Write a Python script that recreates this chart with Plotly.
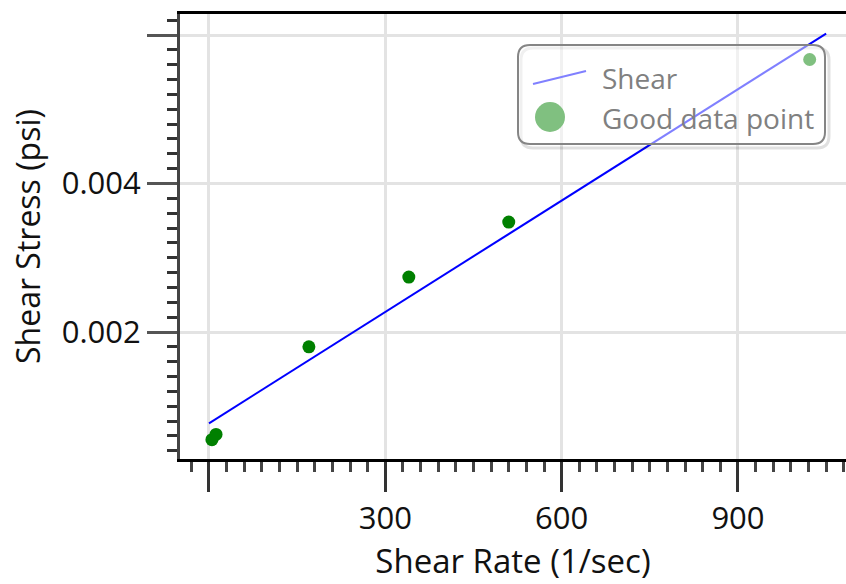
import plotly.graph_objects as go

# ---- data ----
shear_rate = [5, 12, 170, 340, 510, 1022]
shear_stress = [0.00055, 0.00062, 0.00180, 0.00274, 0.00348, 0.00567]
fit_rate = [0, 1050]
fit_stress = [0.00077, 0.00602]

x_major = [0, 300, 600, 900]
x_labels = ["", "300", "600", "900"]
x_medium = [150, 450, 750, 1050]
y_major = [0.002, 0.004, 0.006]
y_labels = ["0.002", "0.004", ""]
y_medium = [0.001, 0.003, 0.005]

legend_names = ["Shear", "Good data point"]

XR = [-49.3, 1083.8]
YR = [0.0002896, 0.006283]
FONT = "Open Sans, Noto Sans, DejaVu Sans, sans-serif"

fig = go.Figure()
fig.add_trace(go.Scatter(x=fit_rate, y=fit_stress, mode="lines", name=legend_names[0],
                         line=dict(color="#0000ff", width=2), showlegend=False))
fig.add_trace(go.Scatter(x=shear_rate, y=shear_stress, mode="markers", name=legend_names[1],
                         marker=dict(color="#008000", size=13), showlegend=False))

L, R, T, B = 180, 0, 14, 125
W, H = 846, 584
pw, ph = W - L - R, H - T - B


def px(x):
    return (x - L) / pw


def py(y):
    return (H - B - y) / ph


def rrect(x0, y0, x1, y1, r):
    rx, ry = r / pw, r / ph
    X0, X1 = px(x0), px(x1)
    Y0, Y1 = py(y0), py(y1)  # Y0 top (larger), Y1 bottom
    return (f"M {X0+rx},{Y0} L {X1-rx},{Y0} Q {X1},{Y0} {X1},{Y0-ry} "
            f"L {X1},{Y1+ry} Q {X1},{Y1} {X1-rx},{Y1} L {X0+rx},{Y1} "
            f"Q {X0},{Y1} {X0},{Y1+ry} L {X0},{Y0-ry} Q {X0},{Y0} {X0+rx},{Y0} Z")


shapes = [
    dict(type="path", xref="paper", yref="paper", layer="above",
         path=rrect(521, 48, 829, 148, 12), fillcolor="rgba(0,0,0,0)",
         line=dict(color="rgba(0,0,0,0.12)", width=3)),
    dict(type="path", xref="paper", yref="paper", layer="above",
         path=rrect(518, 45, 825, 144, 12), fillcolor="rgba(255,255,255,0.5)",
         line=dict(color="#858585", width=2)),
    dict(type="line", xref="paper", yref="paper", layer="above",
         x0=px(533), y0=py(84), x1=px(586), y1=py(71),
         line=dict(color="#8080ff", width=2)),
    dict(type="circle", xref="paper", yref="paper", layer="above",
         x0=px(535), y0=py(102), x1=px(565), y1=py(132),
         fillcolor="#80c080", line=dict(width=0)),
]

annotations = [
    dict(xref="paper", yref="paper", x=px(600), y=py(78), text=legend_names[0],
         showarrow=False, xanchor="left", yanchor="middle",
         font=dict(family=FONT, size=28, color="#808080")),
    dict(xref="paper", yref="paper", x=px(600), y=py(118), text=legend_names[1],
         showarrow=False, xanchor="left", yanchor="middle",
         font=dict(family=FONT, size=28, color="#808080")),
]

fig.update_layout(
    width=W, height=H,
    margin=dict(l=L, r=R, t=T, b=B),
    paper_bgcolor="white", plot_bgcolor="white",
    font=dict(family=FONT, size=31, color="#111111"),
    showlegend=False,
    shapes=shapes,
    annotations=annotations,
    xaxis=dict(
        range=XR, tickmode="array", tickvals=x_major, ticktext=x_labels,
        ticks="outside", ticklen=30, tickwidth=2.5, tickcolor="#333333",
        showgrid=True, gridcolor="#e3e3e3", gridwidth=3,
        showline=True, linecolor="black", linewidth=3, mirror=True,
        zeroline=False,
        minor=dict(tick0=0, dtick=30, ticks="outside", ticklen=10, tickwidth=2.5,
                   tickcolor="#444444", showgrid=False),
        title=dict(text="Shear Rate (1/sec)", standoff=8,
                   font=dict(family=FONT, size=33, color="#111111")),
        tickfont=dict(family=FONT, size=31, color="#111111"),
    ),
    xaxis2=dict(
        range=XR, overlaying="x", anchor="y", side="bottom",
        tickmode="array", tickvals=x_medium, ticks="outside", ticklen=18,
        tickwidth=2.5, tickcolor="#333333", showticklabels=False,
        showgrid=False, showline=False, zeroline=False,
    ),
    yaxis=dict(
        range=YR, tickmode="array", tickvals=y_major, ticktext=y_labels,
        ticks="outside", ticklen=30, tickwidth=2.5, tickcolor="#555555",
        showgrid=True, gridcolor="#e3e3e3", gridwidth=3,
        showline=True, linecolor="#444444", linewidth=3, mirror=False,
        zeroline=False,
        minor=dict(tick0=0, dtick=0.0002, ticks="outside", ticklen=10, tickwidth=2.5,
                   tickcolor="#333333", showgrid=False),
        title=dict(text="Shear Stress (psi)", standoff=12,
                   font=dict(family=FONT, size=32, color="#111111")),
        tickfont=dict(family=FONT, size=31, color="#111111"),
    ),
    yaxis2=dict(
        range=YR, overlaying="y", anchor="x", side="left",
        tickmode="array", tickvals=y_medium, ticks="outside", ticklen=18,
        tickwidth=2.5, tickcolor="#555555", showticklabels=False,
        showgrid=False, showline=False, zeroline=False,
    ),
)

fig.write_html("out.html")
